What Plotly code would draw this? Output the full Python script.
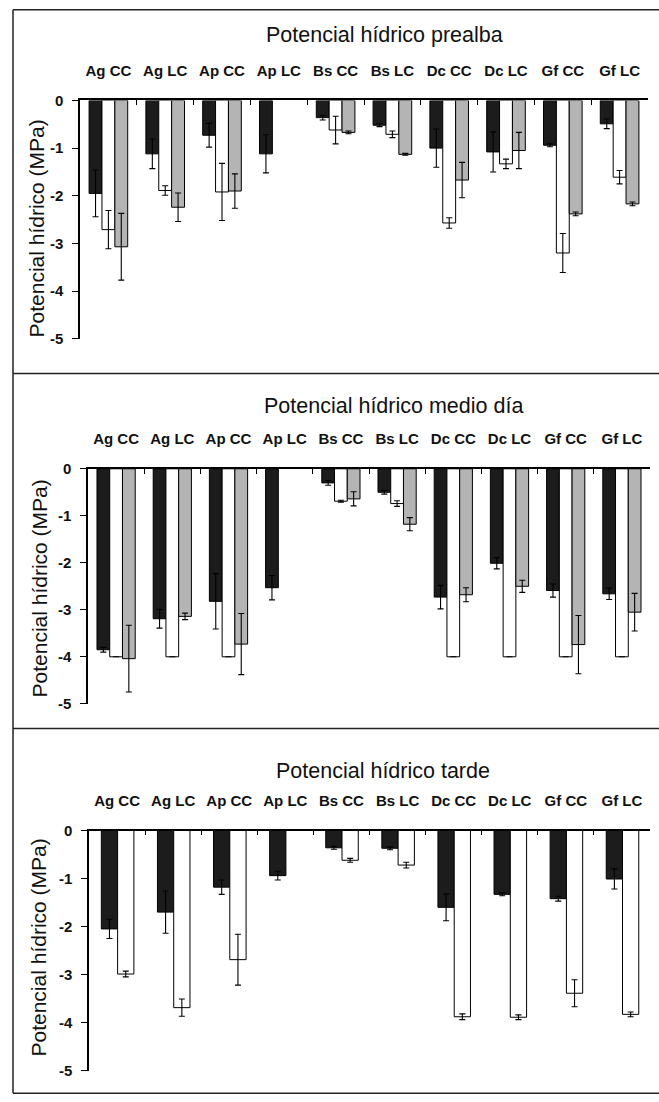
import plotly.graph_objects as go

categories = ["Ag CC", "Ag LC", "Ap CC", "Ap LC", "Bs CC", "Bs LC", "Dc CC", "Dc LC", "Gf CC", "Gf LC"]
panel_titles = ["Potencial hídrico prealba", "Potencial hídrico medio día", "Potencial hídrico tarde"]
y_title = "Potencial hídrico (MPa)"
y_ticks = [0, -1, -2, -3, -4, -5]
y_ticktext = ["0", "-1", "-2", "-3", "-4", "-5"]

# Panel 1: prealba
pre_black = [-1.95, -1.12, -0.73, -1.12, -0.36, -0.52, -1.00, -1.08, -0.94, -0.49]
pre_black_err = [0.49, 0.31, 0.25, 0.40, 0.05, 0.03, 0.40, 0.42, 0.03, 0.10]
pre_white = [-2.71, -1.89, -1.92, None, -0.62, -0.71, -2.57, -1.33, -3.20, -1.61]
pre_white_err = [0.40, 0.10, 0.60, None, 0.29, 0.07, 0.11, 0.10, 0.41, 0.14]
pre_gray = [-3.07, -2.24, -1.90, None, -0.67, -1.13, -1.67, -1.05, -2.38, -2.17]
pre_gray_err = [0.70, 0.30, 0.36, None, 0.03, 0.02, 0.37, 0.38, 0.04, 0.04]

# Panel 2: medio día
mid_black = [-3.85, -3.19, -2.82, -2.53, -0.30, -0.50, -2.73, -2.01, -2.59, -2.66]
mid_black_err = [0.05, 0.20, 0.59, 0.26, 0.05, 0.04, 0.25, 0.12, 0.14, 0.12]
mid_white = [-4.00, -4.00, -4.00, None, -0.69, -0.74, -4.00, -4.00, -4.00, -4.00]
mid_white_err = [None, None, None, None, 0.02, 0.06, None, None, None, None]
mid_gray = [-4.04, -3.14, -3.73, None, -0.64, -1.18, -2.68, -2.50, -3.74, -3.05]
mid_gray_err = [0.71, 0.07, 0.65, None, 0.15, 0.14, 0.15, 0.13, 0.62, 0.40]

# Panel 3: tarde
tar_black = [-2.05, -1.70, -1.18, -0.94, -0.36, -0.37, -1.60, -1.33, -1.42, -1.01]
tar_black_err = [0.20, 0.44, 0.15, 0.09, 0.03, 0.03, 0.28, 0.03, 0.05, 0.21]
tar_white = [-2.99, -3.69, -2.69, None, -0.62, -0.72, -3.88, -3.89, -3.39, -3.83]
tar_white_err = [0.06, 0.18, 0.53, None, 0.04, 0.06, 0.06, 0.05, 0.28, 0.05]

W, H = 659, 1102
FONT = "Arial, Liberation Sans, sans-serif"
BLACK = "#1c1c1c"
WHITE = "#ffffff"
GRAY = "#b4b4b4"

# empirical mapping of page pixels (vertical) observed in the rendering
Y_SCALE = 0.9845
Y_OFF = 8.55


def fx(p):
    return p / W


def fy(p):
    q = (p - Y_OFF) / Y_SCALE
    q = min(max(q, 0.75), H - 0.75)
    return 1 - q / H


def err(arr):
    return dict(type="data", array=arr, visible=True, color="black", thickness=1.1, width=3)


fig = go.Figure()

panels = [
    (1, [(pre_black, pre_black_err, BLACK), (pre_white, pre_white_err, WHITE), (pre_gray, pre_gray_err, GRAY)]),
    (2, [(mid_black, mid_black_err, BLACK), (mid_white, mid_white_err, WHITE), (mid_gray, mid_gray_err, GRAY)]),
]
for idx, series in panels:
    xa = "x" if idx == 1 else f"x{idx}"
    ya = "y" if idx == 1 else f"y{idx}"
    for vals, errs, col in series:
        fig.add_trace(go.Bar(
            x=categories, y=vals, xaxis=xa, yaxis=ya,
            marker=dict(color=col, line=dict(color="black", width=1)),
            error_y=err(errs), showlegend=False, hoverinfo="skip",
        ))

# Panel 3: two series
for vals, errs, col, off in [(tar_black, tar_black_err, BLACK, -0.28), (tar_white, tar_white_err, WHITE, 0.01)]:
    fig.add_trace(go.Bar(
        x=categories, y=vals, xaxis="x3", yaxis="y3",
        width=0.29, offset=off,
        marker=dict(color=col, line=dict(color="black", width=1)),
        error_y=err(errs), showlegend=False, hoverinfo="skip",
    ))

domains = {
    1: ([80, 648], [100, 338.3]),
    2: ([88, 650], [468.3, 703.3]),
    3: ([89, 650], [830, 1070]),
}

layout = dict(
    width=W, height=H,
    margin=dict(l=0, r=0, t=0, b=0),
    paper_bgcolor="white", plot_bgcolor="rgba(0,0,0,0)",
    barmode="group", bargap=0.32, bargroupgap=0,
    font=dict(family=FONT, color="#111"),
    showlegend=False,
)

for idx, (xd, yd) in domains.items():
    xk = "xaxis" if idx == 1 else f"xaxis{idx}"
    yk = "yaxis" if idx == 1 else f"yaxis{idx}"
    ya = "y" if idx == 1 else f"y{idx}"
    xa = "x" if idx == 1 else f"x{idx}"
    layout[xk] = dict(
        domain=[fx(xd[0]), fx(xd[1])], anchor=ya, side="top",
        type="category", categoryorder="array", categoryarray=categories,
        showline=True, linecolor="black", linewidth=1.5,
        ticks="inside", tickson="boundaries", ticklen=5, tickcolor="black", tickwidth=1.2,
        tickfont=dict(size=15, family=FONT, weight="bold", color="#111"),
        ticklabelstandoff=17,
        showgrid=False, zeroline=False, fixedrange=True,
    )
    layout[yk] = dict(
        domain=[fy(yd[1]), fy(yd[0])], anchor=xa,
        range=[-5, 0], tickmode="array", tickvals=y_ticks, ticktext=y_ticktext,
        showline=True, linecolor="black", linewidth=1.5,
        ticks="outside", ticklen=6, tickcolor="black", tickwidth=1.2,
        tickfont=dict(size=15, family=FONT, weight="bold", color="#111"),
        ticklabelstandoff=6,
        showgrid=False, zeroline=False, fixedrange=True,
    )

fig.update_layout(**layout)

annotations = []
title_pos = [(384, 35), (393, 406), (383, 770)]
ytitle_pos = [(36, 228), (39, 588), (39, 947)]
for t, (tx, ty), (yx, yy) in zip(panel_titles, title_pos, ytitle_pos):
    annotations.append(dict(
        text=t, x=fx(tx), y=fy(ty), xref="paper", yref="paper",
        xanchor="center", yanchor="middle", showarrow=False,
        font=dict(size=21.5, family=FONT, color="#111"),
    ))
    annotations.append(dict(
        text=y_title, x=fx(yx), y=fy(yy), xref="paper", yref="paper",
        xanchor="center", yanchor="middle", showarrow=False, textangle=-90,
        font=dict(size=21, family=FONT, color="#111"),
    ))
fig.update_layout(annotations=annotations)

# frame lines
shapes = []
line = dict(color="#222", width=1.5)
shapes.append(dict(type="line", xref="paper", yref="paper", x0=fx(13), x1=fx(13), y0=fy(5), y1=fy(1101), line=line))
for yy in [5, 373, 728, 1100]:
    shapes.append(dict(type="line", xref="paper", yref="paper", x0=fx(13), x1=1, y0=fy(yy), y1=fy(yy), line=line))
fig.update_layout(shapes=shapes)

fig.write_html("out.html")
